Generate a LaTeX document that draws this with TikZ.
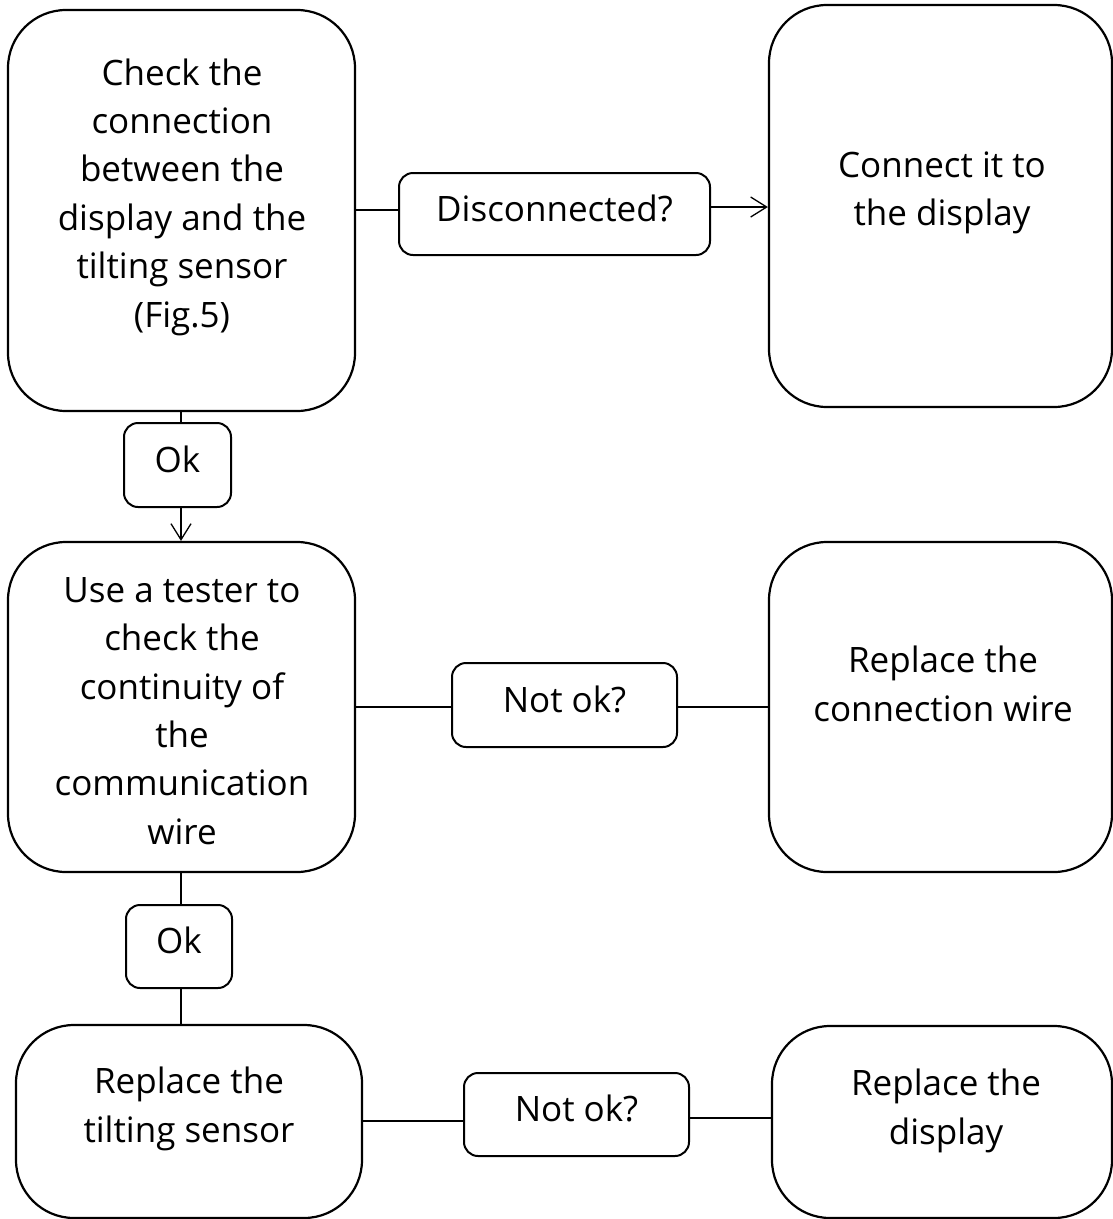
\documentclass[tikz,border=0pt]{standalone}
\usepackage{fontspec}
\setmainfont{Open Sans}
\usetikzlibrary{arrows.meta}
\tikzset{
  bigbox/.style={draw, line width=2.2pt, rounded corners=58pt, inner sep=0pt, fill=white},
  tagbox/.style={draw, line width=2pt, rounded corners=14pt, inner sep=0pt, fill=white,
    font=\fontsize{35}{48}\selectfont, text height=26pt, text depth=12pt},
  txt/.style={align=center, inner sep=0pt, font=\fontsize{35}{48.4}\selectfont},
  link/.style={line width=1.3pt},
  arr/.style={line width=1.3pt, -{Straight Barb[length=16pt,width=20pt,line width=1.3pt]}}
}
\begin{document}
\begin{tikzpicture}[x=1pt,y=-1pt]
\useasboundingbox (0,0) rectangle (1113,1219);
\clip (0,0) rectangle (1113,1219);
% big boxes (centre, width, height)
\node[bigbox, minimum width=347pt, minimum height=401pt] (b1) at (181.5,210.5) {};
\node[bigbox, minimum width=343pt, minimum height=402pt] (b2) at (940.5,206) {};
\node[bigbox, minimum width=347pt, minimum height=330pt] (b3) at (181.5,707) {};
\node[bigbox, minimum width=343pt, minimum height=330pt] (b4) at (940.5,707) {};
\node[bigbox, minimum width=346pt, minimum height=193pt] (b5) at (189,1121.5) {};
\node[bigbox, minimum width=340pt, minimum height=192pt] (b6) at (942,1122) {};
% texts
\node[txt] (t1) at (182,197) {Check the\\connection\\between the\\display and the\\tilting sensor\\(Fig.5)};
\node[txt] (t2) at (942,193) {Connect it to\\the display};
\node[txt] (t3) at (182,711) {Use a tester to\\check the\\continuity of\\the\\communication\\wire};
\node[txt] (t4) at (943,684) {Replace the\\connection wire};
\node[txt] (t5) at (189,1109) {Replace the\\tilting sensor};
\node[txt] (t6) at (946,1111) {Replace the\\display};
% tag boxes
\node[tagbox, minimum width=311pt, minimum height=82pt] (d1) at (554.5,214) {Disconnected?};
\node[tagbox, minimum width=107pt, minimum height=84pt] (o1) at (177.5,465) {Ok};
\node[tagbox, minimum width=225pt, minimum height=84pt] (n1) at (564.5,705) {Not ok?};
\node[tagbox, minimum width=106pt, minimum height=83pt] (o2) at (179,946.5) {Ok};
\node[tagbox, minimum width=225pt, minimum height=83pt] (n2) at (576.5,1114.5) {Not ok?};
% connectors
\draw[link] (b1.east |- 0,210) -- (d1.west |- 0,210);
\draw[arr] (d1.east |- 0,207) -- (b2.west |- 0,207);
\draw[link] (b1.south -| 181,0) -- (o1.north -| 181,0);
\draw[arr] (o1.south -| 181,0) -- (b3.north -| 181,0);
\draw[link] (b3.east |- 0,707) -- (n1.west |- 0,707);
\draw[link] (n1.east |- 0,707) -- (b4.west |- 0,707);
\draw[link] (b3.south -| 181,0) -- (o2.north -| 181,0);
\draw[link] (o2.south -| 181,0) -- (b5.north -| 181,0);
\draw[link] (b5.east |- 0,1121) -- (n2.west |- 0,1121);
\draw[link] (n2.east |- 0,1118) -- (b6.west |- 0,1118);
\end{tikzpicture}
\end{document}
